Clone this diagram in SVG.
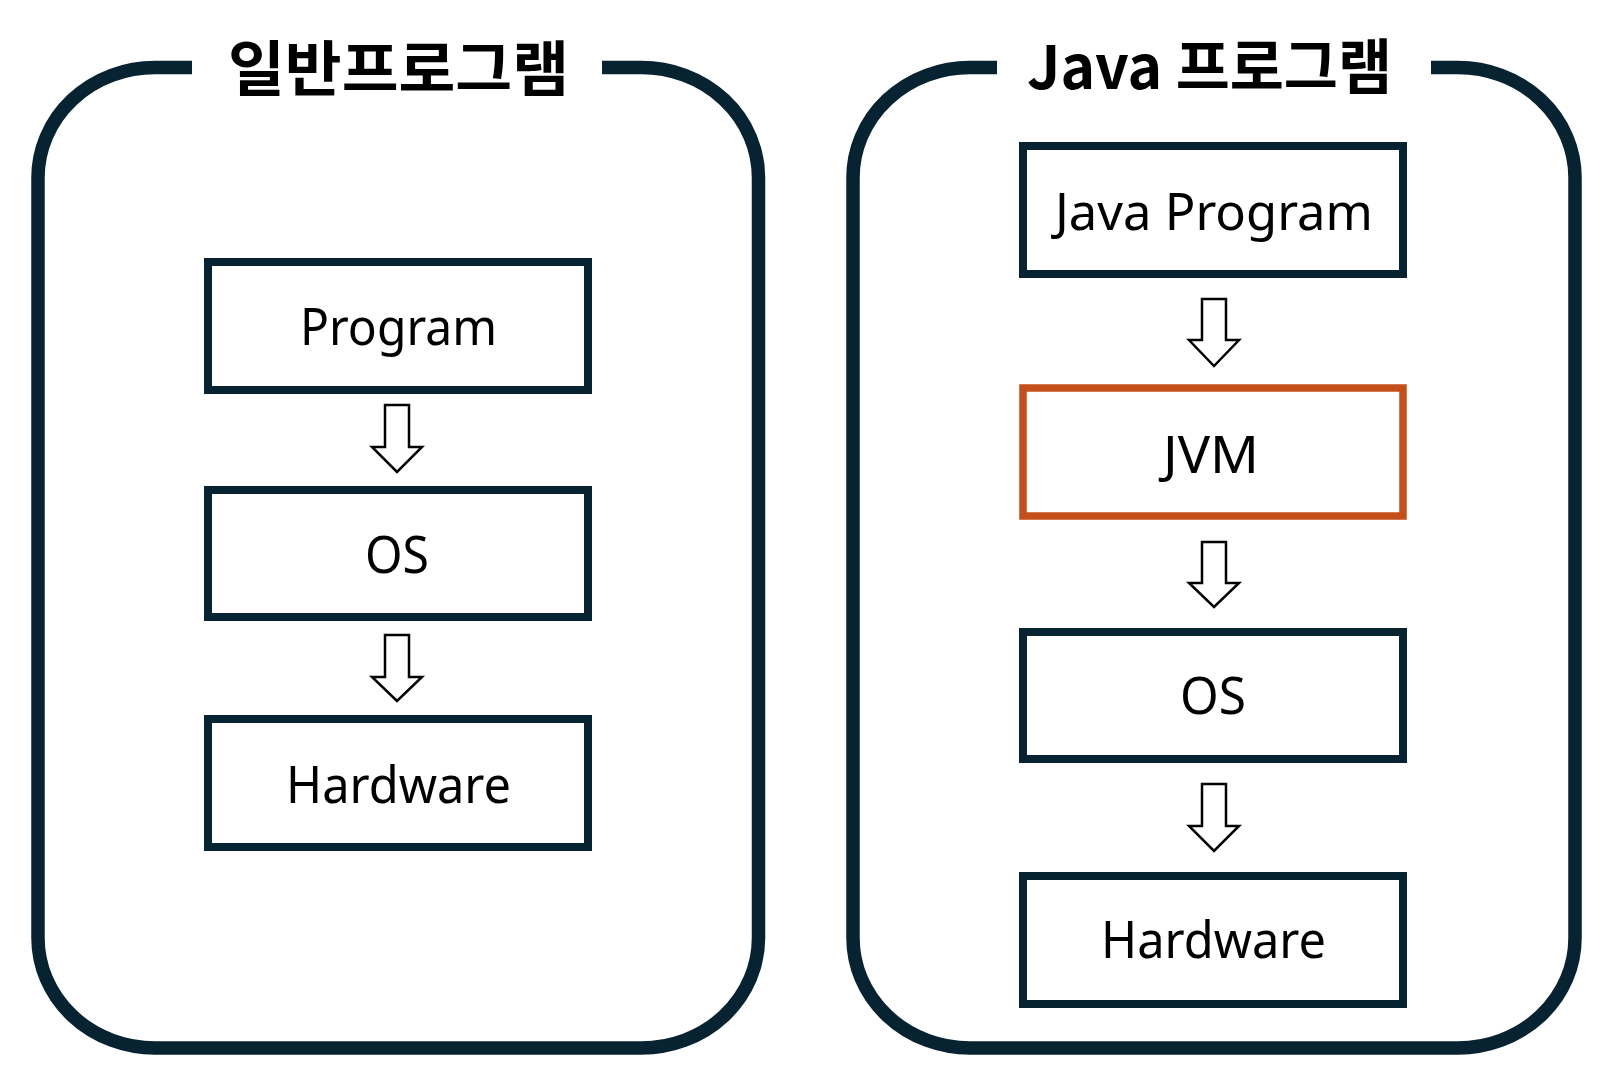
<svg xmlns="http://www.w3.org/2000/svg" width="1620" height="1079" viewBox="0 0 1620 1079">
<style>
.frame{fill:none;stroke:#072230;stroke-width:13.5;stroke-linecap:butt}
.box{fill:#ffffff;stroke:#072230;stroke-width:8}
.jvm{fill:#ffffff;stroke:#C3501A;stroke-width:7.5}
.title{font-family:"Noto Sans CJK KR","Noto Sans",sans-serif;font-weight:bold;font-size:60px;fill:#000000}
.lbl{font-family:"Noto Sans","Noto Sans CJK KR",sans-serif;font-size:51px;fill:#000000}
.arrow{fill:#ffffff;stroke:#000000;stroke-width:2.5;stroke-linejoin:miter}
</style>
<rect x="0" y="0" width="1620" height="1079" fill="#ffffff"/>
<g id="group-general">
<path class="frame" d="M192,67.5 H155 A117,110 0 0 0 38,177.5 V938 A117,110 0 0 0 155,1048 H641.5 A117,110 0 0 0 758.5,938 V177.5 A117,110 0 0 0 641.5,67.5 H602"/>
<text class="title" x="228" y="91" textLength="341" lengthAdjust="spacingAndGlyphs">일반프로그램</text>
</g>
<g id="group-java">
<path class="frame" d="M997,67.5 H970 A117,110 0 0 0 853,177.5 V938 A117,110 0 0 0 970,1048 H1458 A117,110 0 0 0 1575,938 V177.5 A117,110 0 0 0 1458,67.5 H1431"/>
<text class="title" x="1027" y="89" textLength="365" lengthAdjust="spacingAndGlyphs">Java 프로그램</text>
</g>
<g id="node-program">
<rect class="box" x="208" y="262" width="380" height="128"/>
<text class="lbl" x="300" y="345" textLength="197" lengthAdjust="spacingAndGlyphs">Program</text>
</g>
<g id="node-os-left">
<rect class="box" x="208" y="490" width="380" height="127"/>
<text class="lbl" x="365" y="573" textLength="64" lengthAdjust="spacingAndGlyphs">OS</text>
</g>
<g id="node-hardware-left">
<rect class="box" x="208" y="719" width="380" height="128"/>
<text class="lbl" x="286" y="803" textLength="225" lengthAdjust="spacingAndGlyphs">Hardware</text>
</g>
<g id="node-java-program">
<rect class="box" x="1023" y="146" width="380" height="128"/>
<text class="lbl" x="1055" y="230" textLength="318" lengthAdjust="spacingAndGlyphs">Java Program</text>
</g>
<g id="node-jvm">
<rect class="jvm" x="1023" y="388" width="380" height="128"/>
<text class="lbl" x="1163" y="473" textLength="96" lengthAdjust="spacingAndGlyphs">JVM</text>
</g>
<g id="node-os-right">
<rect class="box" x="1023" y="632" width="380" height="127"/>
<text class="lbl" x="1180" y="714" textLength="66" lengthAdjust="spacingAndGlyphs">OS</text>
</g>
<g id="node-hardware-right">
<rect class="box" x="1023" y="876" width="380" height="128"/>
<text class="lbl" x="1101" y="958" textLength="225" lengthAdjust="spacingAndGlyphs">Hardware</text>
</g>
<g id="connectors">
<polygon class="arrow" points="385,405 409,405 409,447 422,447 397,472 372,447 385,447"/>
<polygon class="arrow" points="385,635 409,635 409,677 422,677 397,701 372,677 385,677"/>
<polygon class="arrow" points="1202,299 1226,299 1226,340 1239,340 1214,366 1189,340 1202,340"/>
<polygon class="arrow" points="1202,542 1226,542 1226,583 1239,583 1214,607 1189,583 1202,583"/>
<polygon class="arrow" points="1202,784 1226,784 1226,826 1239,826 1214,851 1189,826 1202,826"/>
</g>
</svg>
